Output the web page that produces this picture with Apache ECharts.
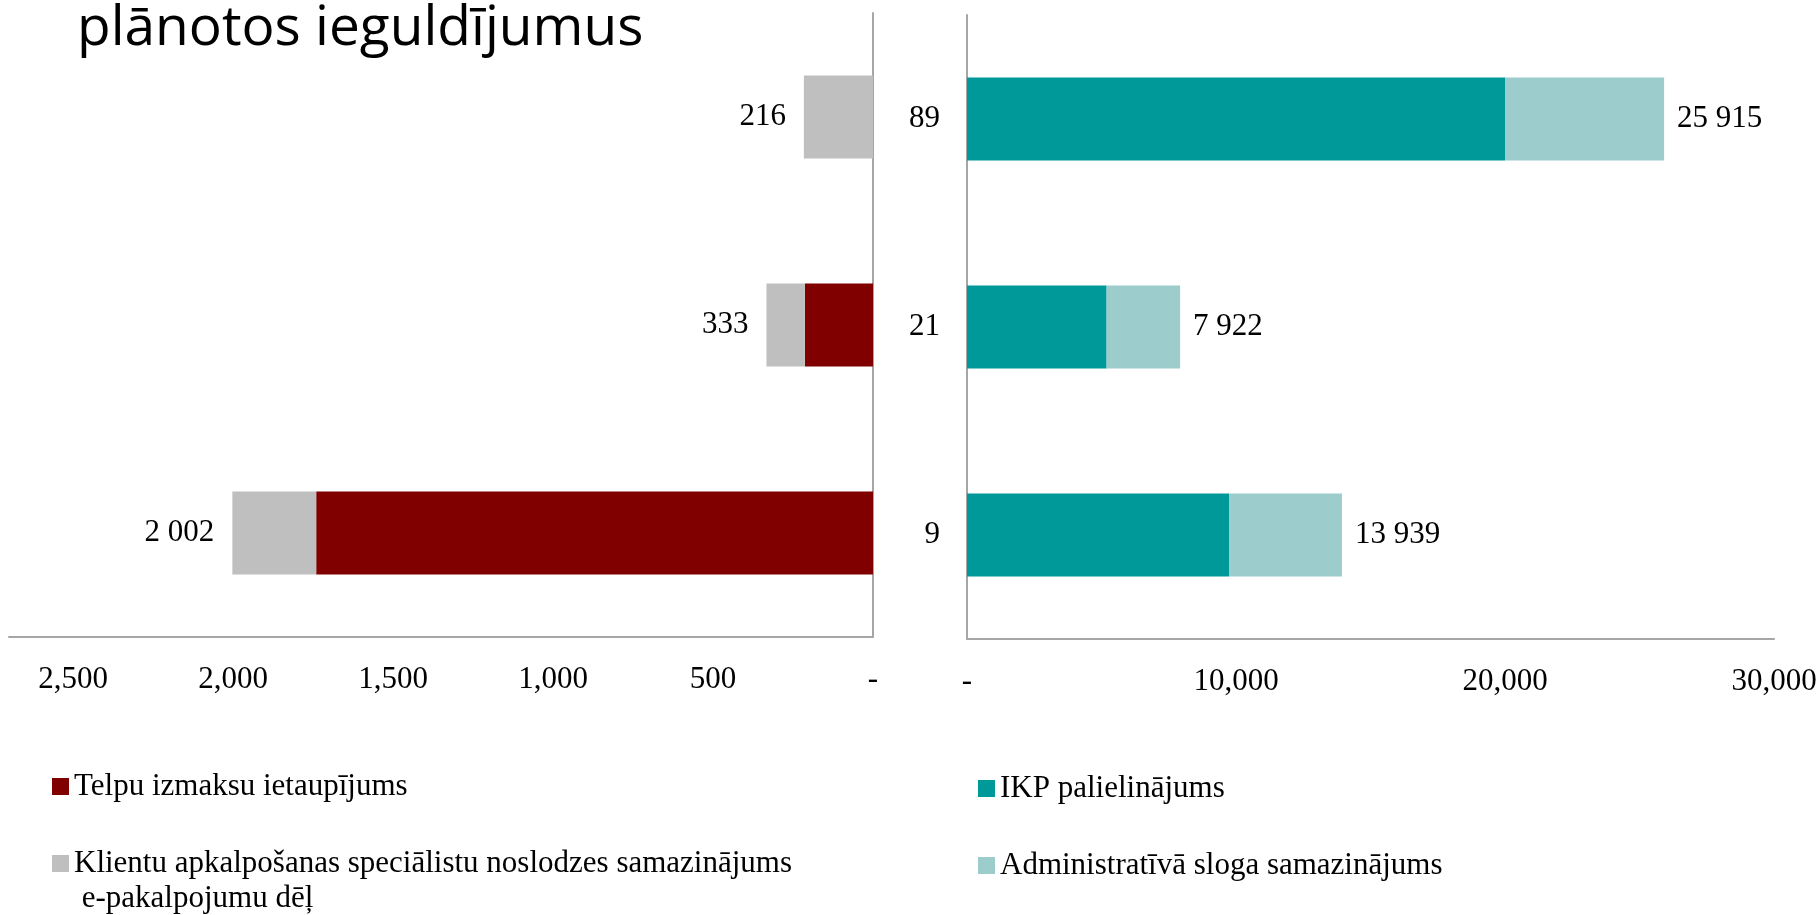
<!DOCTYPE html>
<html>
<head>
<meta charset="utf-8">
<script src="https://cdn.jsdelivr.net/npm/echarts@6/dist/echarts.min.js"></script>
<style>
html,body{margin:0;padding:0;background:#fff;}
#chart{width:1820px;height:915px;}
</style>
</head>
<body>
<div id="chart"></div>
<script>
// ---- data ----
const titleText = 'plānotos ieguldījumus';
const rowLabels = ['89', '21', '9'];
const leftNames = ['Telpu izmaksu ietaupījums', 'Klientu apkalpošanas speciālistu noslodzes samazinājums e-pakalpojumu dēļ'];
const rightNames = ['IKP palielinājums', 'Administratīvā sloga samazinājums'];
const telpu = [0, 213, 1740];
const klientu = [216, 120, 262];
const ikp = [20000, 5190, 9740];
const admin = [5915, 2732, 4199];
const leftTicks = {min: 0, max: 2700, interval: 500};
const rightTicks = {min: 0, max: 30000, interval: 10000};

// ---- helpers ----
const FONT = 'Liberation Serif';
const FS = 31;
const axisFmt = v => v === 0 ? '-' : v.toLocaleString('en-US');
const spaceFmt = v => String(Math.round(v)).replace(/\B(?=(\d{3})+(?!\d))/g, ' ');
const leftTotals = telpu.map((v, i) => v + klientu[i]);
const rightTotals = ikp.map((v, i) => v + admin[i]);
const axisLineStyle = {color: '#a6a6a6', width: 2};
const BAR_W = 83;

const chart = echarts.init(document.getElementById('chart'), null, {renderer: 'canvas'});

const legendBase = {
  orient: 'vertical', icon: 'rect', itemWidth: 17, itemHeight: 17, padding: 0,
  selectedMode: false,
  textStyle: {fontFamily: FONT, fontSize: FS, color: '#000', lineHeight: 35}
};

const option = {
  animation: false,
  backgroundColor: '#fff',
  graphic: [{
    type: 'text',
    style: {
      text: titleText, x: 77, y: 29, verticalAlign: 'middle', align: 'left',
      font: '55px "Open Sans"', fill: '#000'
    }
  }],
  legend: [
    Object.assign({}, legendBase, {data: [leftNames[0]], left: 52, top: 769}),
    Object.assign({}, legendBase, {
      data: [leftNames[1]], left: 52, top: 811,
      formatter: n => '\n' + n.replace(' e-pakalpojumu', '\n e-pakalpojumu')
    }),
    Object.assign({}, legendBase, {data: [rightNames[0]], left: 978, top: 771}),
    Object.assign({}, legendBase, {data: [rightNames[1]], left: 978, top: 848})
  ],
  grid: [
    {left: 9, top: 13, width: 864, height: 624, containLabel: false},
    {left: 967, top: 15, width: 807, height: 624, containLabel: false}
  ],
  xAxis: [
    {
      gridIndex: 0, type: 'value', inverse: true,
      min: leftTicks.min, max: leftTicks.max, interval: leftTicks.interval,
      axisLine: {show: true, lineStyle: axisLineStyle},
      axisTick: {show: false}, splitLine: {show: false},
      axisLabel: {formatter: axisFmt, margin: 27, fontFamily: FONT, fontSize: FS, color: '#000', showMaxLabel: false}
    },
    {
      gridIndex: 1, type: 'value',
      min: rightTicks.min, max: rightTicks.max, interval: rightTicks.interval,
      axisLine: {show: true, lineStyle: axisLineStyle},
      axisTick: {show: false}, splitLine: {show: false},
      axisLabel: {formatter: axisFmt, margin: 27, fontFamily: FONT, fontSize: FS, color: '#000'}
    }
  ],
  yAxis: [
    {
      gridIndex: 0, type: 'category', data: rowLabels, inverse: true, position: 'right',
      axisLine: {show: true, onZero: false, lineStyle: axisLineStyle},
      axisTick: {show: false}, axisLabel: {show: false}
    },
    {
      gridIndex: 1, type: 'category', data: rowLabels, inverse: true, position: 'left',
      axisLine: {show: true, onZero: false, lineStyle: axisLineStyle},
      axisTick: {show: false},
      axisLabel: {margin: 27, fontFamily: FONT, fontSize: FS, color: '#000'}
    }
  ],
  series: [
    {
      name: leftNames[0], type: 'bar', stack: 'L', xAxisIndex: 0, yAxisIndex: 0,
      barWidth: BAR_W, data: telpu, itemStyle: {color: '#800000'}
    },
    {
      name: leftNames[1], type: 'bar', stack: 'L', xAxisIndex: 0, yAxisIndex: 0,
      barWidth: BAR_W, data: klientu, itemStyle: {color: '#bfbfbf'},
      label: {
        show: true, position: 'left', distance: 18,
        fontFamily: FONT, fontSize: FS, color: '#000',
        formatter: p => spaceFmt(leftTotals[p.dataIndex])
      }
    },
    {
      name: rightNames[0], type: 'bar', stack: 'R', xAxisIndex: 1, yAxisIndex: 1,
      barWidth: BAR_W, data: ikp, itemStyle: {color: '#009999'}
    },
    {
      name: rightNames[1], type: 'bar', stack: 'R', xAxisIndex: 1, yAxisIndex: 1,
      barWidth: BAR_W, data: admin, itemStyle: {color: '#9ccccc'},
      label: {
        show: true, position: 'right', distance: 13,
        fontFamily: FONT, fontSize: FS, color: '#000',
        formatter: p => spaceFmt(rightTotals[p.dataIndex])
      }
    }
  ]
};
chart.setOption(option);
</script>
</body>
</html>
